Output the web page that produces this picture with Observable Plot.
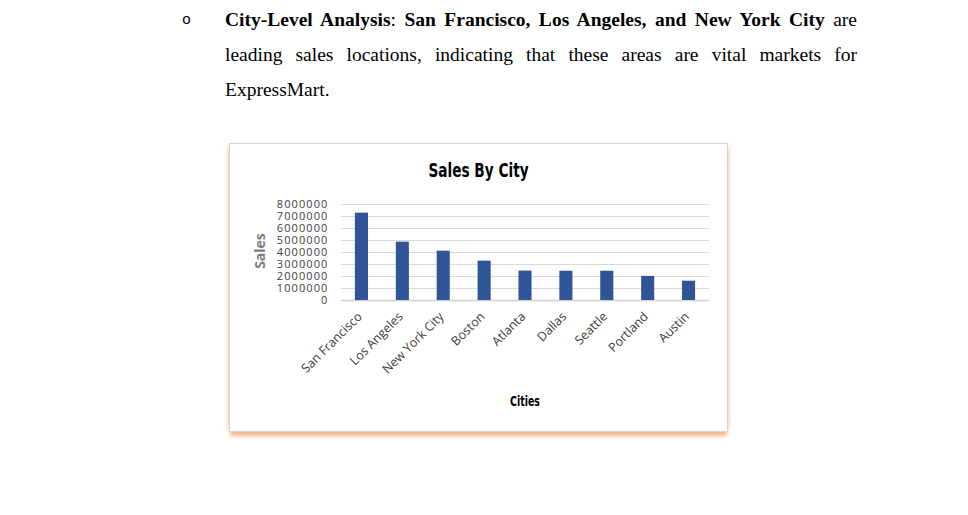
<!DOCTYPE html>
<html>
<head>
<meta charset="utf-8">
<script src="https://cdn.jsdelivr.net/npm/d3@7"></script>
<script src="https://cdn.jsdelivr.net/npm/@observablehq/plot@0.6"></script>
<style>
  html, body { margin: 0; padding: 0; background: #fff; width: 968px; height: 515px; overflow: hidden; }
  .para { position: absolute; left: 225px; top: 2px; width: 632px; font-family: "Liberation Serif", "Times New Roman", serif; font-size: 19.5px; line-height: 35px; color: #000; }
  .para div { text-align: justify; text-align-last: justify; white-space: nowrap; }
  .para div.last { text-align-last: left; }
  .bullet { position: absolute; left: 182px; top: 3px; font-family: "Liberation Mono", monospace; font-size: 15px; line-height: 35px; }
  .box { position: absolute; left: 229px; top: 143px; width: 497px; height: 287px; border: 1px solid #d4d4d4; background: #fff;
         box-shadow: 0 5px 4px -1px rgba(244,170,120,0.85), -4px 0 5px -3px rgba(250,200,170,0.7), 4px 0 5px -3px rgba(250,200,170,0.5); }
  .title { position: absolute; left: 0; width: 100%; top: 14px; text-align: center; font-family: "DejaVu Sans Condensed", "DejaVu Sans", sans-serif; font-weight: bold; font-size: 20px; color: #000; transform: scaleX(0.76); }
  .xlabel { position: absolute; left: 250px; width: 90px; top: 249px; text-align: center; font-family: "DejaVu Sans Condensed", "DejaVu Sans", sans-serif; font-weight: bold; font-size: 14px; color: #000; transform: scaleX(0.75); }
  .ylabel { position: absolute; left: 29px; top: 107px; transform: translate(-50%, -50%) rotate(-90deg); font-family: "Open Sans", sans-serif; font-weight: bold; font-size: 14px; color: #7f7f7f; white-space: nowrap; }
  #chart { position: absolute; left: 0; top: 0; }
  #chart g[aria-label="y-axis tick label"] text { letter-spacing: 1.1px; font-size: 11px; }
  #chart g[aria-label="x-axis tick label"] text { font-size: 12.5px; }
</style>
</head>
<body>
<div class="bullet">o</div>
<div class="para">
  <div><b>City-Level Analysis</b>: <b>San Francisco, Los Angeles, and New York City</b> are</div>
  <div>leading sales locations, indicating that these areas are vital markets for</div>
  <div class="last">ExpressMart.</div>
</div>
<div class="box">
  <div id="chart"></div>
  <div class="title">Sales By City</div>
  <div class="ylabel">Sales</div>
  <div class="xlabel">Cities</div>
</div>
<script>
const cities = ["San Francisco", "Los Angeles", "New York City", "Boston", "Atlanta", "Dallas", "Seattle", "Portland", "Austin"];
const sales = [7280000, 4860000, 4110000, 3280000, 2450000, 2440000, 2440000, 2010000, 1610000];
const yTicks = [0, 1000000, 2000000, 3000000, 4000000, 5000000, 6000000, 7000000, 8000000];

const data = cities.map((c, i) => ({city: c, sales: sales[i]}));

const chart = Plot.plot({
  width: 497,
  height: 287,
  marginLeft: 111,
  marginRight: 18,
  marginTop: 60,
  marginBottom: 131,
  style: {fontFamily: "Open Sans, sans-serif", fontSize: "12px", color: "#404040", background: "transparent"},
  x: {domain: cities, paddingInner: 0.68, paddingOuter: 0.34, round: false, label: null},
  y: {domain: [0, 8000000], label: null},
  marks: [
    Plot.gridY(yTicks, {stroke: "#d9d9d9", strokeOpacity: 1, strokeWidth: 1}),
    Plot.ruleY([0], {stroke: "#d0d0d0", strokeWidth: 1.5}),
    Plot.barY(data, {x: "city", y: "sales", fill: "#2f5597"}),
    Plot.axisY(yTicks, {tickSize: 0, tickPadding: 13, tickFormat: d => String(d), label: null, fill: "#404040"}),
    Plot.axisX({tickSize: 0, tickPadding: 14, dx: -2, tickRotate: -45, label: null, fill: "#404040"})
  ]
});
document.getElementById("chart").appendChild(chart);
</script>
</body>
</html>
